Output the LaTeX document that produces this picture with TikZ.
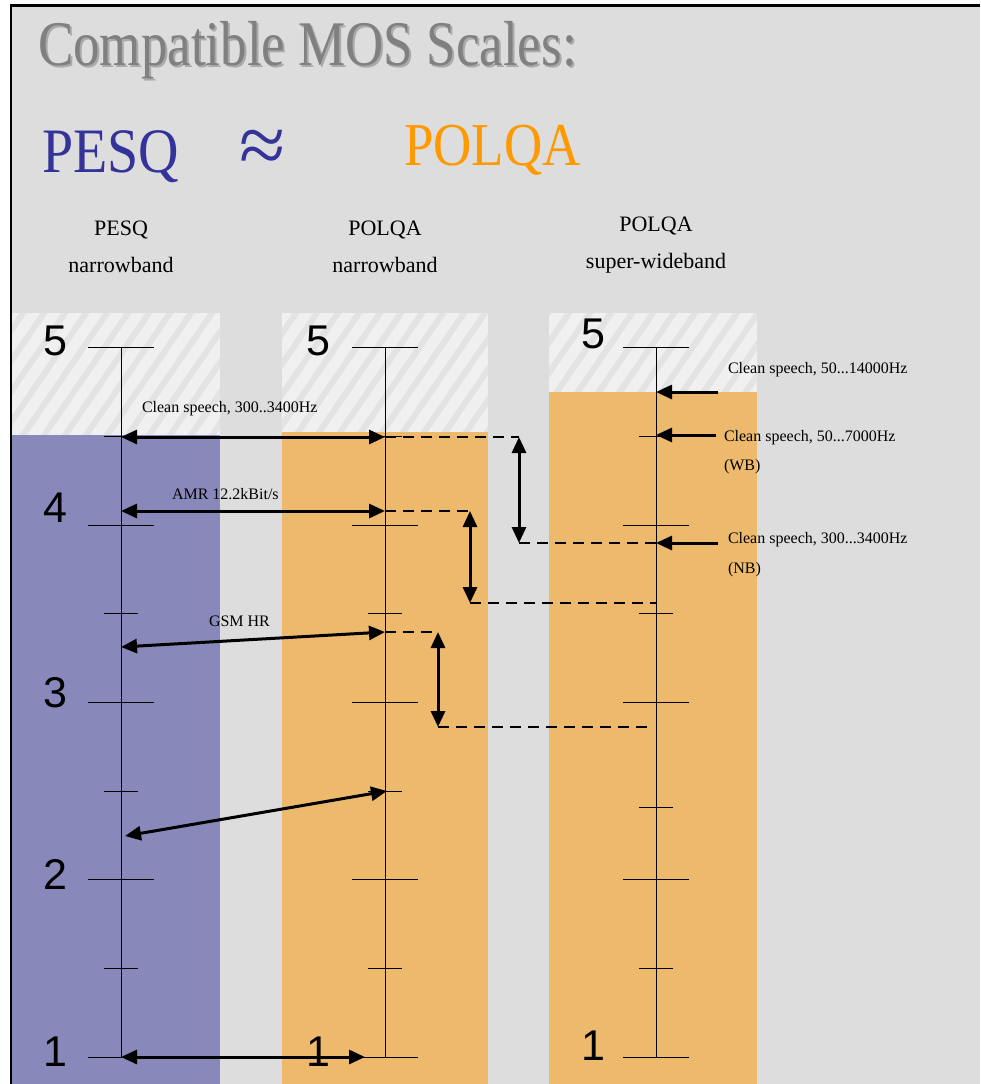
\documentclass[tikz,border=0pt]{standalone}
\usepackage{fontspec}
\setmainfont{Liberation Serif}
\newfontfamily\digitfont{Liberation Sans}
\usetikzlibrary{arrows.meta}
\definecolor{bggray}{HTML}{DDDDDD}
\definecolor{hatchbase}{HTML}{F0F0F0}
\definecolor{hatchstripe}{HTML}{E3E3E3}
\definecolor{pesqfill}{HTML}{8888BB}
\definecolor{polqafill}{HTML}{EDBA6D}
\definecolor{titlegray}{HTML}{808080}
\definecolor{pesqtext}{HTML}{333399}
\definecolor{polqatext}{HTML}{FF9900}
\begin{document}
\begin{tikzpicture}[x=1pt, y=-1pt,
		every node/.style={inner sep=0pt, outer sep=0pt},
		digit/.style={font=\digitfont\fontsize{43}{43}\selectfont},
		header/.style={font=\fontsize{22}{24}\selectfont, anchor=base},
		small/.style={font=\fontsize{16}{18}\selectfont, anchor=base west},
		tick/.style={line width=0.8pt},
		link/.style={line width=3pt, {Triangle[length=16pt,width=14pt]}-{Triangle[length=16pt,width=14pt]}},
		pointer/.style={line width=3pt, -{Triangle[length=16pt,width=14pt]}},
		guide/.style={line width=1.6pt, dash pattern=on 11pt off 7pt}]

		\useasboundingbox (0,0) rectangle (980,1084);
		\fill[white] (0,0) rectangle (980,1084);
		\fill[bggray] (11,5) rectangle (980,1084);
		\draw[line width=1.5pt] (11,1084) -- (11,5);
		\draw[line width=3pt] (10,5) -- (980,5);

		% columns
		\fill[hatchbase] (12,313) rectangle (220,1084);
		\fill[hatchbase] (282,313) rectangle (488,1084);
		\fill[hatchbase] (549,313) rectangle (757,1084);
		\begin{scope}
			\clip (12,313) rectangle (220,435) (282,313) rectangle (488,432) (549,313) rectangle (757,392);
			\foreach \s in {-120,-99,...,780}
				\draw[hatchstripe, line width=6pt] (\s,460) -- ++(110,-160);
		\end{scope}
		\fill[pesqfill] (12,435) rectangle (220,1084);
		\fill[polqafill] (282,432) rectangle (488,1084);
		\fill[polqafill] (549,392) rectangle (757,1084);

		% scales
		\foreach \x/\h in {121/791, 385/791, 656/807} {
			\draw[tick] (\x,347) -- (\x,1057);
			\foreach \y in {347,525,702,879,1057}
				\draw[tick] (\x-33,\y) -- (\x+33,\y);
			\foreach \y in {436,613,\h,968}
				\draw[tick] (\x-17,\y) -- (\x+17,\y);
		}

		% titles
		\node[anchor=base west, font=\fontsize{53}{53}\selectfont, text=gray!55!bggray] at (40,67) {\scalebox{1}[1.2]{Compatible MOS Scales:}};
		\node[anchor=base west, font=\fontsize{53}{53}\selectfont, text=titlegray] (title) at (38,65) {\scalebox{1}[1.2]{Compatible MOS Scales:}};
		\node[anchor=base west, font=\fontsize{56}{56}\selectfont, text=pesqtext] (pesqbig) at (42,172) {\scalebox{1}[1.13]{PESQ}};
		\node[font=\fontsize{84}{84}\selectfont, text=pesqtext] (approx) at (263,152) {≈};
		\node[anchor=base west, font=\fontsize{53}{53}\selectfont, text=polqatext] (polqabig) at (404,165) {\scalebox{1}[1.15]{POLQA}};

		\node[header] (pesqname) at (121,235) {PESQ};
		\node[header] (pesqband) at (121,272) {narrowband};
		\node[header] (nbname) at (385,235) {POLQA};
		\node[header] (nbband) at (385,272) {narrowband};
		\node[header] (swbname) at (656,231) {POLQA};
		\node[header] (swbband) at (656,268) {super-wideband};

		\node[digit] (pesq5) at (55,341) {5};
		\node[digit] (pesq4) at (55,508) {4};
		\node[digit] (pesq3) at (55,693) {3};
		\node[digit] (pesq2) at (55,874) {2};
		\node[digit] (pesq1) at (55,1052) {1};
		\node[digit] (nb5) at (318,341) {5};
		\node[digit] (nb1) at (318,1052) {1};
		\node[digit] (swb5) at (593,334) {5};
		\node[digit] (swb1) at (593,1046) {1};

		\node[small] (cleanlbl) at (142,412) {Clean speech, 300..3400Hz};
		\node[small] (amrlbl) at (172,499) {AMR 12.2kBit/s};
		\node[small] (gsmlbl) at (209,626) {GSM HR};
		\node[small] (swblbl) at (728,373) {Clean speech, 50...14000Hz};
		\node[small] (wblbl) at (724,441) {Clean speech, 50...7000Hz};
		\node[small] (wbtag) at (724,470) {(WB)};
		\node[small] (nblbl) at (728,543) {Clean speech, 300...3400Hz};
		\node[small] (nbtag) at (728,573) {(NB)};

		% scale points
		\coordinate (a45) at (121,437);
		\coordinate (b45) at (385,437);
		\coordinate (a41) at (121,511);
		\coordinate (b41) at (385,511);
		\coordinate (a33) at (121,647);
		\coordinate (b34) at (385,632);
		\coordinate (a22) at (125,836);
		\coordinate (b25) at (387,791);
		\coordinate (a1) at (121,1057);
		\coordinate (b1) at (365,1057);
		\coordinate (c47) at (656,392);
		\coordinate (c45) at (656,435);
		\coordinate (c39) at (656,543);
		\coordinate (c36) at (656,603);
		\coordinate (c29) at (652,727);
		\coordinate (k1) at (519,437);
		\coordinate (k1e) at (519,543);
		\coordinate (k2) at (470,511);
		\coordinate (k2e) at (470,603);
		\coordinate (k3) at (438,632);
		\coordinate (k3e) at (438,727);
		\coordinate (p47) at (718,392);
		\coordinate (p45) at (716,435);
		\coordinate (p39) at (718,543);

		\draw[link] (a45) -- (b45);
		\draw[link] (a41) -- (b41);
		\draw[link] (a33) -- (b34);
		\draw[link] (a22) -- (b25);
		\draw[link] (a1) -- (b1);

		\draw[guide] (b45) -- (k1);
		\draw[guide] (k1e) -- (c39);
		\draw[guide] (b41) -- (k2);
		\draw[guide] (k2e) -- (c36);
		\draw[guide] (b34) -- (k3);
		\draw[guide] (k3e) -- (c29);
		\draw[link] (k1) -- (k1e);
		\draw[link] (k2) -- (k2e);
		\draw[link] (k3) -- (k3e);

		\draw[pointer] (p47) -- (c47);
		\draw[pointer] (p45) -- (c45);
		\draw[pointer] (p39) -- (c39);
	\end{tikzpicture}
\end{document}
